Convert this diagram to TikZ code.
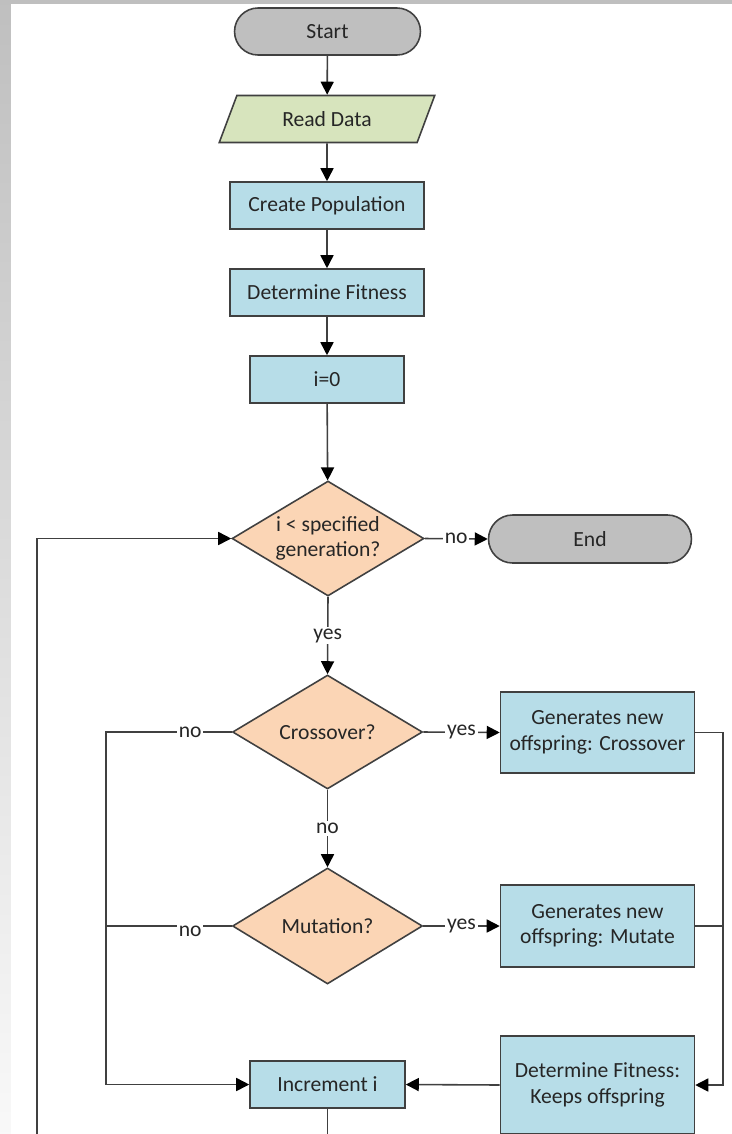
\documentclass[tikz,border=0pt]{standalone}
\usepackage{fontspec}
\setmainfont{Carlito}
\usetikzlibrary{shapes.geometric, shapes.misc, arrows.meta}

\definecolor{termgray}{HTML}{BFBFBF}
\definecolor{iogreen}{HTML}{D7E4BD}
\definecolor{procblue}{HTML}{B7DDE8}
\definecolor{decpeach}{HTML}{FBD5B5}
\definecolor{edgegray}{HTML}{404040}
\definecolor{txtgray}{HTML}{262626}

\tikzset{
  base/.style={draw=edgegray, line width=0.9pt, text=txtgray, align=center,
               font=\fontsize{12.3}{14.6}\selectfont, inner sep=2pt},
  term/.style={base, rounded rectangle, fill=termgray},
  iobox/.style={base, trapezium, trapezium left angle=67, trapezium right angle=113,
                trapezium stretches=true, fill=iogreen},
  proc/.style={base, rectangle, fill=procblue},
  decision/.style={base, diamond, aspect=1.67, inner sep=0pt, fill=decpeach},
  flow/.style={draw=edgegray, line width=0.9pt,
               -{Triangle[length=0.26cm, width=0.26cm, color=black]}},
  link/.style={draw=edgegray, line width=0.9pt},
  lbl/.style={fill=white, inner sep=1pt, text=txtgray, font=\fontsize{12.3}{14}\selectfont}
}

\begin{document}
\begin{tikzpicture}[x=0.02cm, y=-0.02cm]
  \useasboundingbox (0,0) rectangle (732,1134);
  \clip (0,0) rectangle (732,1134);
  \shade[top color=gray!50, bottom color=gray!5] (0,0) rectangle (732,1134);
  \fill[white] (11,4) rectangle (732,1134);

  \node[term, minimum width=3.86cm, minimum height=0.94cm] (start) at (327.5,31.5) {Start};
  \node[iobox, minimum width=4.32cm, minimum height=0.94cm] (read) at (327,119) {Read Data};
  \node[proc, minimum width=3.88cm, minimum height=0.94cm] (pop) at (327,205.5) {Create Population};
  \node[proc, minimum width=3.88cm, minimum height=0.94cm] (fit) at (327,292.5) {Determine Fitness};
  \node[proc, minimum width=3.08cm, minimum height=0.94cm] (init) at (327,379.5) {i=0};
  \node[decision, minimum width=3.84cm, minimum height=2.3cm] (gen) at (328,538.5) {i {\textless} specified\\generation?};
  \node[term, minimum width=4.2cm, minimum height=0.96cm] (stop) at (590,539) {End};
  \node[decision, minimum width=3.8cm, minimum height=2.28cm] (cross) at (327.5,732) {Crossover?};
  \node[proc, minimum width=3.88cm, minimum height=1.62cm] (cgen) at (597.5,732.5) {Generates new\\offspring: Crossover};
  \node[decision, minimum width=3.8cm, minimum height=2.32cm] (mut) at (327.5,926) {Mutation?};
  \node[proc, minimum width=3.88cm, minimum height=1.64cm] (mgen) at (597.5,926) {Generates new\\offspring: Mutate};
  \node[proc, minimum width=3.88cm, minimum height=1.96cm] (keep) at (597.5,1085) {Determine Fitness:\\Keeps offspring};
  \node[proc, minimum width=3.1cm, minimum height=0.94cm] (inc) at (327.5,1084.5) {Increment i};

  \coordinate (loopin) at (106,1084.5);
  \coordinate (loopout) at (723,1085);
  \coordinate (incend) at (327.5,1140);
  \coordinate (back) at (37,1140);

  \draw[flow] (start) -- (read);
  \draw[flow] (read) -- (pop);
  \draw[flow] (pop) -- (fit);
  \draw[flow] (fit) -- (init);
  \draw[flow] (init) -- (gen);
  \draw[flow] (gen.east) -- node[lbl] {no} (stop.west);
  \draw[flow] (gen.south) -- node[lbl] {yes} (cross.north);
  \draw[flow] (cross.east) -- node[lbl] {yes} (cgen.west);
  \draw[flow] (cross.south) -- node[lbl] {no} (mut.north);
  \draw[flow] (mut.east) -- node[lbl] {yes} (mgen.west);
  \draw[flow] (cross.west) -- node[lbl, pos=0.33] {no} (loopin |- cross.west) -- (loopin) -- (inc.west);
  \draw[link] (mut.west) -- node[lbl, pos=0.33, yshift=-0.1cm] {no} (loopin |- mut.west);
  \draw[flow] (cgen.east) -- (loopout |- cgen.east) -- (loopout) -- (keep.east);
  \draw[link] (mgen.east) -- (loopout |- mgen.east);
  \draw[flow] (keep.west) -- (inc.east);
  \draw[link] (inc.south) -- (incend);
  \draw[flow] (back) -- (back |- gen.west) -- (gen.west);
\end{tikzpicture}
\end{document}
